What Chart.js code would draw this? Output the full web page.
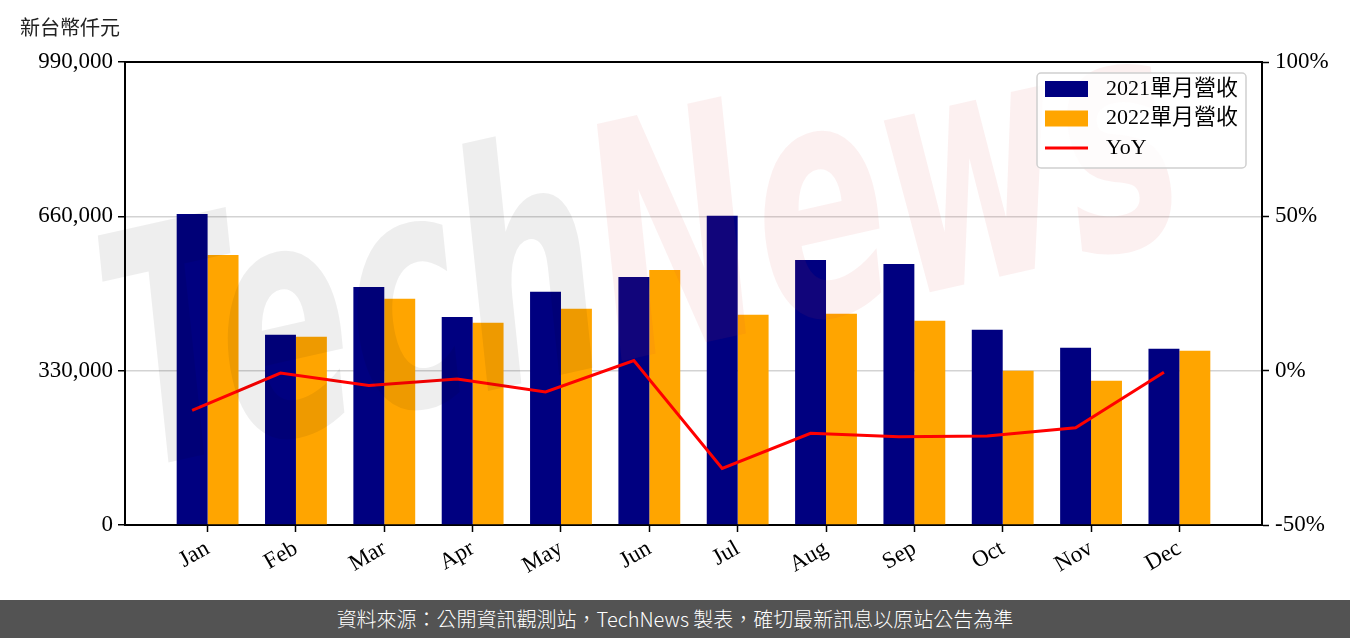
<!DOCTYPE html>
<html>
<head>
<meta charset="utf-8">
<script src="https://cdn.jsdelivr.net/npm/chart.js@4/dist/chart.umd.min.js"></script>
<style>
  body { margin: 0; background: #fff; }
  #wrap { width: 1350px; height: 600px; position: relative; }
  #footer {
    width: 1350px; height: 38px; background: #535353; color: #fff;
    font: 300 20px "Noto Sans CJK TC", sans-serif; text-align: center; line-height: 38px;
  }
</style>
</head>
<body>
<div id="wrap"><canvas id="myChart"></canvas></div>
<div id="footer">資料來源：公開資訊觀測站，TechNews 製表，確切最新訊息以原站公告為準</div>
<script>
// 資料
const months = ["Jan", "Feb", "Mar", "Apr", "May", "Jun", "Jul", "Aug", "Sep", "Oct", "Nov", "Dec"];
const rev2021 = [665000, 406800, 509000, 445000, 498500, 530500, 661000, 566700, 558200, 417400, 379000, 376900];
const rev2022 = [577400, 402500, 483600, 432400, 462200, 545400, 449400, 451600, 436600, 330000, 308600, 372600];
const yoy = [-12.9, -0.8, -4.8, -2.7, -6.9, 3.3, -31.7, -20.3, -21.4, -21.2, -18.5, -0.5];
const leftTicks = [0, 330000, 660000, 990000];
const rightTicks = [-50, 0, 50, 100];

const tickFont = { family: "'Liberation Serif', 'Noto Sans CJK TC', serif", size: 23 };

// 外框、圖例、浮水印
const extras = {
  id: 'extras',
  afterDatasetsDraw(chart) {
    const ctx = chart.ctx;
    // 浮水印
    ctx.save();
    ctx.translate(135, 470);
    ctx.rotate(-0.22);
    ctx.scale(0.78, 1.3);
    ctx.font = "italic bold 250px 'DejaVu Sans'";
    ctx.textBaseline = 'alphabetic';
    ctx.fillStyle = 'rgba(0,0,0,0.065)';
    ctx.fillText('Tech', 0, 0);
    const w = ctx.measureText('Tech').width;
    ctx.fillStyle = 'rgba(220,60,70,0.08)';
    ctx.fillText('News', w, 0);
    ctx.restore();
  },
  afterDraw(chart) {
    const ctx = chart.ctx;
    const a = chart.chartArea;
    ctx.save();
    ctx.strokeStyle = '#000';
    ctx.lineWidth = 2;
    ctx.beginPath();
    ctx.moveTo(a.left - 1, a.top);
    ctx.lineTo(a.right + 1, a.top);
    ctx.stroke();

    // 單位
    ctx.fillStyle = '#222';
    ctx.font = "20px 'Noto Sans CJK TC'";
    ctx.textBaseline = 'middle';
    ctx.textAlign = 'left';
    ctx.fillText('新台幣仟元', 20, 27);

    // 圖例
    const lx = 1037, ly = 73, lw = 209, lh = 95;
    ctx.fillStyle = 'rgba(255,255,255,0.85)';
    ctx.strokeStyle = '#d0d0d0';
    ctx.lineWidth = 1.5;
    ctx.beginPath();
    ctx.roundRect(lx, ly, lw, lh, 4);
    ctx.fill();
    ctx.stroke();
    const items = [
      { text: '2021單月營收', color: '#000080', kind: 'box' },
      { text: '2022單月營收', color: '#FFA500', kind: 'box' },
      { text: 'YoY', color: '#FF0000', kind: 'line' }
    ];
    ctx.font = "22px 'Liberation Serif', 'Noto Sans CJK TC'";
    items.forEach((it, i) => {
      const cy = 89 + i * 29.5;
      if (it.kind === 'box') {
        ctx.fillStyle = it.color;
        ctx.fillRect(1045, cy - 8, 43, 16);
      } else {
        ctx.strokeStyle = it.color;
        ctx.lineWidth = 3;
        ctx.beginPath();
        ctx.moveTo(1045, cy);
        ctx.lineTo(1088, cy);
        ctx.stroke();
      }
      ctx.fillStyle = '#000';
      ctx.fillText(it.text, 1106, cy);
    });
    ctx.restore();
  }
};

const data = {
  datasets: [
    {
      type: 'line',
      label: 'YoY',
      data: yoy.map((v, i) => ({ x: i - 0.175, y: v })),
      yAxisID: 'y1',
      borderColor: '#FF0000',
      borderWidth: 3,
      pointRadius: 0,
      tension: 0,
      order: 0
    },
    {
      type: 'bar',
      label: '2021單月營收',
      data: rev2021.map((v, i) => ({ x: i, y: v })),
      yAxisID: 'y',
      backgroundColor: '#000080',
      categoryPercentage: 0.7,
      barPercentage: 1.0,
      order: 1
    },
    {
      type: 'bar',
      label: '2022單月營收',
      data: rev2022.map((v, i) => ({ x: i, y: v })),
      yAxisID: 'y',
      backgroundColor: '#FFA500',
      categoryPercentage: 0.7,
      barPercentage: 1.0,
      order: 1
    }
  ]
};

const config = {
  data: data,
  options: {
    responsive: true,
    maintainAspectRatio: false,
    animation: false,
    layout: { padding: { top: 62, left: 0, right: 0, bottom: 0 } },
    plugins: {
      legend: { display: false },
      tooltip: { enabled: false }
    },
    scales: {
      x: {
        type: 'linear',
        offset: false,
        min: -0.935,
        max: 11.935,
        afterBuildTicks: s => { s.ticks = months.map((m, i) => ({ value: i })); },
        afterFit: s => { s.height = 75; },
        grid: { offset: false, drawOnChartArea: false, tickLength: 7, tickColor: '#000', tickWidth: 1.5 },
        border: { color: '#000', width: 2 },
        ticks: {
          autoSkip: false, maxRotation: 30, minRotation: 30, padding: 3,
          color: '#000', font: { family: tickFont.family, size: 23 },
          callback: v => months[v] ?? ''
        }
      },
      y: {
        position: 'left',
        min: 0,
        max: 990000,
        afterBuildTicks: s => { s.ticks = leftTicks.map(v => ({ value: v })); },
        afterFit: s => { s.width = 125; },
        grid: { color: '#d3d3d3', lineWidth: 1.5, tickLength: 7, tickColor: '#000', tickWidth: 1.5 },
        border: { color: '#000', width: 2 },
        ticks: {
          padding: 5, color: '#000', font: tickFont,
          callback: v => v.toLocaleString('en-US')
        }
      },
      y1: {
        position: 'right',
        min: -50,
        max: 100,
        afterBuildTicks: s => { s.ticks = rightTicks.map(v => ({ value: v })); },
        afterFit: s => { s.width = 88; },
        grid: { drawOnChartArea: false, tickLength: 7, tickColor: '#000', tickWidth: 1.5 },
        border: { color: '#000', width: 2 },
        ticks: {
          padding: 6, color: '#000', font: tickFont,
          callback: v => v + '%'
        }
      }
    }
  },
  plugins: [extras]
};

const ctx = document.getElementById('myChart').getContext('2d');
const myChart = new Chart(ctx, config);
</script>
</body>
</html>
